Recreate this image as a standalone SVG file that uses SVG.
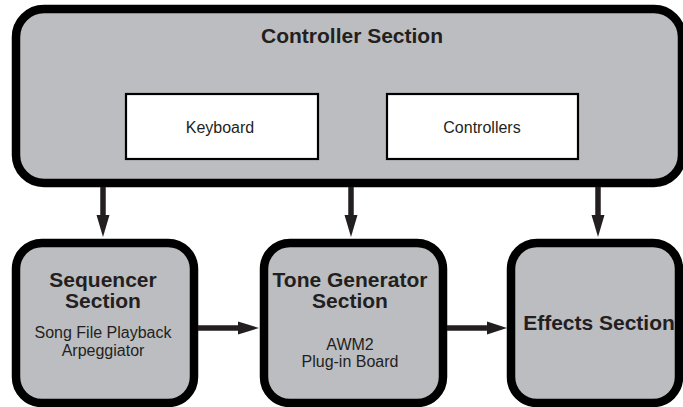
<svg xmlns="http://www.w3.org/2000/svg" width="683" height="407" viewBox="0 0 683 407">
<style>
.sec{fill:#bcbdc1;stroke:#000;stroke-width:8.5}
.inner{fill:#fff;stroke:#000;stroke-width:2.2}
.t{font-family:"Liberation Sans",Arial,sans-serif;fill:#231f20;text-anchor:middle}
.b{font-weight:bold;font-size:21px}
.r{font-size:16px}
.shaft{stroke:#231f20;stroke-width:5.5;fill:none}
.head{fill:#231f20}
</style>
<rect width="683" height="407" fill="#fff"/>
<g id="controller-section">
<rect class="sec" x="16" y="9" width="666" height="174" rx="28"/>
<text class="t b" x="352" y="43">Controller Section</text>
</g>
<g id="keyboard">
<rect class="inner" x="126" y="94" width="192" height="65"/>
<text class="t r" x="220" y="133">Keyboard</text>
</g>
<g id="controllers">
<rect class="inner" x="387" y="94" width="191" height="65"/>
<text class="t r" x="482" y="133">Controllers</text>
</g>
<g id="sequencer-section">
<rect class="sec" x="16" y="243" width="178" height="160" rx="26"/>
<text class="t b" x="103" y="287">Sequencer</text>
<text class="t b" x="103" y="308">Section</text>
<text class="t r" x="103" y="338">Song File Playback</text>
<text class="t r" x="103" y="356">Arpeggiator</text>
</g>
<g id="tone-generator-section">
<rect class="sec" x="264" y="243" width="179" height="160" rx="26"/>
<text class="t b" x="350" y="287">Tone Generator</text>
<text class="t b" x="350" y="308">Section</text>
<text class="t r" x="350" y="350">AWM2</text>
<text class="t r" x="350" y="367">Plug-in Board</text>
</g>
<g id="effects-section">
<rect class="sec" x="511" y="243" width="168" height="160" rx="26"/>
<text class="t b" x="599" y="330">Effects Section</text>
</g>
<g id="connectors">
<line class="shaft" x1="103" y1="187" x2="103" y2="216"/>
<polygon class="head" points="96.5,215 109.5,215 103,237"/>
<line class="shaft" x1="351" y1="187" x2="351" y2="216"/>
<polygon class="head" points="344.5,215 357.5,215 351,237"/>
<line class="shaft" x1="598" y1="187" x2="598" y2="216"/>
<polygon class="head" points="591.5,215 604.5,215 598,237"/>
<line class="shaft" x1="198" y1="328" x2="239" y2="328"/>
<polygon class="head" points="238,321.5 238,334.5 259,328"/>
<line class="shaft" x1="447" y1="328" x2="488" y2="328"/>
<polygon class="head" points="487,321.5 487,334.5 507,328"/>
</g>
</svg>
